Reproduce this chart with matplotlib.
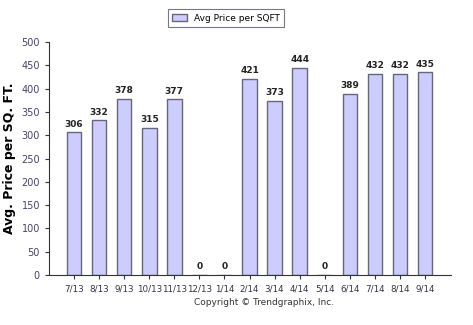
import matplotlib
matplotlib.use("Agg")
import matplotlib.pyplot as plt
import numpy as np

# data
months = ["7/13", "8/13", "9/13", "10/13", "11/13", "12/13", "1/14", "2/14",
          "3/14", "4/14", "5/14", "6/14", "7/14", "8/14", "9/14"]
prices = [306, 332, 378, 315, 377, 0, 0, 421, 373, 444, 0, 389, 432, 432, 435]

fig = plt.figure(figsize=(4.73, 3.25), dpi=100)
ax = fig.add_axes([0.1036, 0.1538, 0.85, 0.717])

x = np.arange(len(months))
bars = ax.bar(x, prices, width=0.58, color="#ccccff", edgecolor="#66667a",
              linewidth=1.0, label="Avg Price per SQFT", zorder=2)

for xi, v in zip(x, prices):
    ax.text(xi, v + 8, str(v), ha="center", va="bottom", fontsize=6.5,
            fontweight="bold", color="#222222")

ax.set_xlim(-1.0, len(months) + 0.04)
ax.set_ylim(0, 500)
ax.set_yticks(range(0, 501, 50))
ax.set_xticks(x)
ax.set_xticklabels(months)
ax.tick_params(axis="x", labelsize=6.3, colors="#333344", length=3, width=0.8)
ax.tick_params(axis="y", labelsize=7, colors="#333344", labelcolor="#444466",
               length=3, width=0.8)
for s in ["top", "right"]:
    ax.spines[s].set_visible(False)
for s in ["left", "bottom"]:
    ax.spines[s].set_color("#333333")
    ax.spines[s].set_linewidth(0.8)

ax.set_ylabel("Avg. Price per SQ. FT.", fontsize=9, fontweight="bold", labelpad=4)

leg = fig.legend(handles=[bars], labels=["Avg Price per SQFT"], loc="upper center",
                 bbox_to_anchor=(0.478, 0.985), fontsize=6.5, frameon=True,
                 fancybox=False, edgecolor="#555566", handlelength=1.6,
                 handleheight=0.8, borderpad=0.5)
leg.get_frame().set_linewidth(0.8)

fig.text(0.558, 0.07, "Copyright \u00a9 Trendgraphix, Inc.", ha="center", va="center",
         fontsize=6.5, color="#333333")

fig.savefig("out.png", dpi=100)
